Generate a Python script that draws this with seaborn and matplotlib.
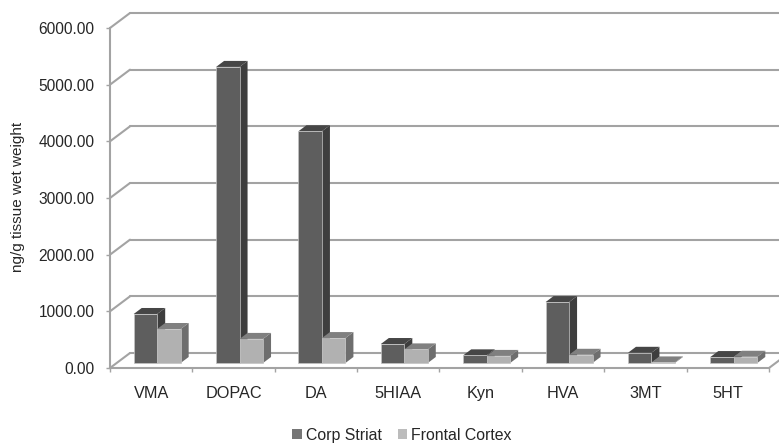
import pandas as pd
import matplotlib
matplotlib.use('Agg')
import matplotlib.pyplot as plt
from matplotlib.patches import Polygon
from matplotlib.transforms import ScaledTranslation
import seaborn as sns

# values
compounds = ['VMA', 'DOPAC', 'DA', '5HIAA', 'Kyn', 'HVA', '3MT', '5HT']
corp_striat = [865, 5225, 4090, 335, 135, 1075, 180, 105]
frontal_cortex = [600, 425, 440, 240, 125, 145, 10, 110]
y_ticks = [0, 1000, 2000, 3000, 4000, 5000, 6000]

W, H = 779, 444
DPI = 100

# fake 3D depth, in pixels
WALL_DX, WALL_DY = 20, 15
BAR_DX, BAR_DY = 8, 6
BASE_DX, BASE_DY = 6, 5

FRONT = {'Corp Striat': '#5e5e5e', 'Frontal Cortex': '#b1b1b1'}
SIDE = {'Corp Striat': '#3e3e3e', 'Frontal Cortex': '#6e6e6e'}
TOP = {'Corp Striat': '#464646', 'Frontal Cortex': '#808080'}
LEGEND_COLORS = ['#767676', '#bcbcbc']
GRID = '#a3a3a3'
TEXT = '#262626'


def shift(fig, dx, dy):
    # offset in pixels on top of data coords
    return ScaledTranslation(dx / DPI, dy / DPI, fig.dpi_scale_trans)


def main():
    sns.set_theme(style='white')
    plt.rcParams['font.family'] = ['Liberation Sans', 'DejaVu Sans']

    df = pd.DataFrame({
        'compound': compounds * 2,
        'value': corp_striat + frontal_cortex,
        'region': ['Corp Striat'] * len(compounds) + ['Frontal Cortex'] * len(compounds),
    })

    fig = plt.figure(figsize=(W / DPI, H / DPI), dpi=DPI)
    ax = fig.add_axes([110 / W, (H - 368) / H, (769 - 110) / W, (368 - 28) / H])

    sns.barplot(data=df, x='compound', y='value', hue='region', palette=FRONT,
                width=0.57, gap=0, saturation=1, errorbar=None, ax=ax, zorder=3)
    ax.set_xlim(-0.5, len(compounds) - 0.5)
    ax.set_ylim(0, 6000)

    # back wall grid and floor
    x0, x1 = ax.get_xlim()
    wall = ax.transData + shift(fig, WALL_DX, WALL_DY)
    for t in y_ticks:
        ax.plot([x0, x1 + 0.2], [t, t], color=GRID, lw=1.5, clip_on=False, zorder=1, transform=wall)
        pts = [ax.transData.transform((x0, t)), wall.transform((x0, t))]
        ax.plot([pts[0][0], pts[1][0]], [pts[0][1], pts[1][1]], color=GRID, lw=1.5,
                clip_on=False, zorder=1, transform=None)
    pts = [ax.transData.transform((x1, 0)), wall.transform((x1, 0))]
    ax.plot([pts[0][0], pts[1][0]], [pts[0][1], pts[1][1]], color=GRID, lw=1.5,
            clip_on=False, zorder=1, transform=None)

    # bars: move off the axis and add side and top faces
    base = ax.transData + shift(fig, BASE_DX, BASE_DY)
    deep = base + shift(fig, BAR_DX, BAR_DY)
    for container, region in zip(ax.containers, ['Corp Striat', 'Frontal Cortex']):
        z = 3 if region == 'Corp Striat' else 4
        for bar in container:
            bar.set_transform(base)
            bar.set_clip_on(False)
            bar.set_zorder(z + 0.2)
            bar.set_edgecolor('#c4c4c4')
            bar.set_linewidth(0.5)
            left, right = bar.get_x(), bar.get_x() + bar.get_width()
            top = bar.get_height()
            a = base.transform([(right, 0), (right, top), (left, top)])
            b = deep.transform([(right, 0), (right, top), (left, top)])
            ax.add_patch(Polygon([a[0], b[0], b[1], a[1]], closed=True, transform=None,
                                 fc=SIDE[region], ec='none', clip_on=False, zorder=z))
            ax.add_patch(Polygon([a[2], a[1], b[1], b[2]], closed=True, transform=None,
                                 fc=TOP[region], ec='none', clip_on=False, zorder=z))

    sns.despine(ax=ax)
    for side in ['left', 'bottom']:
        ax.spines[side].set_color(GRID)
        ax.spines[side].set_linewidth(1.5)
    ax.set_yticks(y_ticks)
    ax.set_yticklabels(['%.2f' % t for t in y_ticks])
    ax.tick_params(axis='y', length=3, width=1, color=GRID, labelcolor=TEXT, labelsize=11.2, pad=8, left=True)
    ax.set_xticks([i - 0.5 for i in range(len(compounds) + 1)], minor=True)
    ax.tick_params(axis='x', which='minor', length=3, width=1, color=GRID, bottom=True)
    ax.tick_params(axis='x', which='major', length=0, labelcolor=TEXT, labelsize=11.7, pad=13)
    ax.set_xlabel('')
    ax.set_ylabel('ng/g tissue wet weight', fontsize=11, color=TEXT)
    ax.yaxis.set_label_coords(25 / W, (H - 197) / H, transform=fig.transFigure)

    sns.move_legend(ax, 'lower center', bbox_to_anchor=(402 / W, -5 / H), bbox_transform=fig.transFigure,
                    ncol=2, frameon=False, title=None, fontsize=11.4, handlelength=0.6, handleheight=0.6,
                    handletextpad=0.25, columnspacing=1.0, labelcolor=TEXT, borderaxespad=0.0)
    for handle, color in zip(ax.get_legend().legend_handles, LEGEND_COLORS):
        handle.set_facecolor(color)
        handle.set_linewidth(0)

    fig.savefig('out.png', dpi=DPI)


if __name__ == "__main__":
    main()
